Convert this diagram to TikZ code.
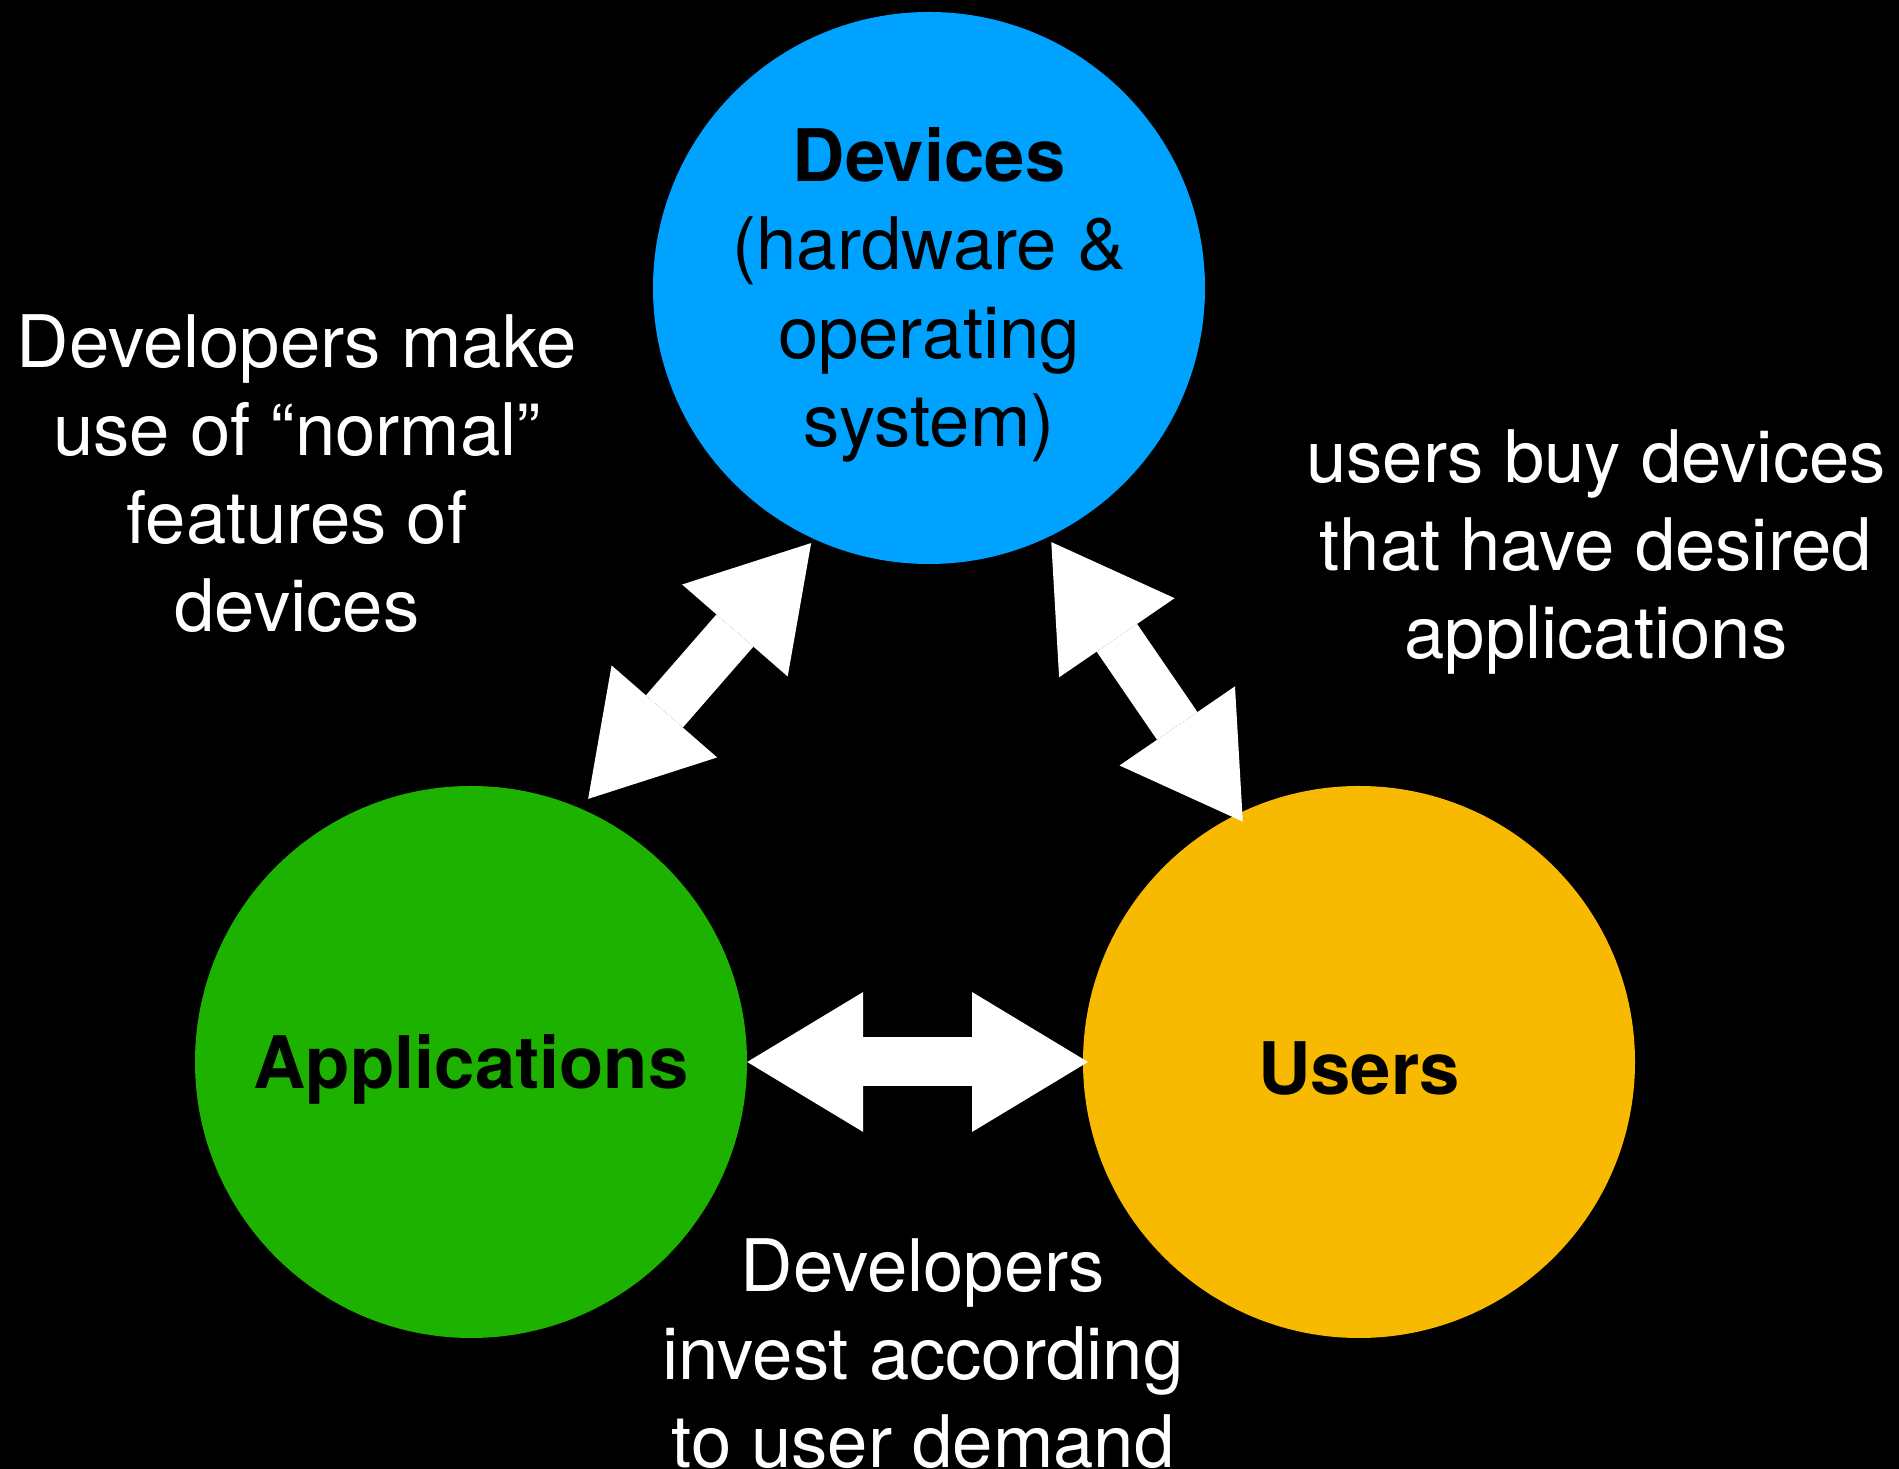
\documentclass[tikz,border=0pt]{standalone}
\usepackage{fontspec}
\setmainfont{TeX Gyre Heros}
\usetikzlibrary{arrows.meta}
\definecolor{devblue}{HTML}{00A2FF}
\definecolor{appgreen}{HTML}{1DB100}
\definecolor{useryellow}{HTML}{F8BA00}
\tikzset{hub/.style={circle,minimum size=552pt,inner sep=0pt},
         hubtext/.style={align=center,text=black,yshift=-7pt,
                         font=\fontsize{72.5}{88.5}\selectfont},
         note/.style={align=center,text=white,font=\fontsize{72.5}{88}\selectfont},
         bigtip/.tip={Triangle[length=116pt,width=140pt,line width=0pt]},
         twoway/.style={draw=white,line width=49pt,bigtip-bigtip},
         }
\begin{document}
\begin{tikzpicture}[x=1pt,y=1pt]
\path[use as bounding box,fill=black] (0,0) rectangle (1899,1469);
% the three parties
\node[hub,fill=devblue,label={[hubtext]center:{\textbf{Devices}\\(hardware \&\\operating\\system)}}]
    (dev) at (929,1181) {};
\node[hub,fill=appgreen,label={[hubtext]center:\textbf{Applications}}] (app) at (471,407) {};
\node[hub,fill=useryellow,label={[hubtext]center:\textbf{Users}}] (usr) at (1359,407) {};
% what links them
\node[note] (devnote) at (297,995) {Developers make\\use of “normal”\\features of\\devices};
\node[note] (usrnote) at (1596,917) {users buy devices\\that have desired\\applications};
\node[note] (appnote) at (923,115) {Developers\\invest according\\to user demand};
\draw[twoway] (app.east) -- ([shift={(180:271)}]usr.center);
\draw[twoway] ([shift={(66:288)}]app.center) -- ([shift={(245.2:281)}]dev.center);
\draw[twoway] ([shift={(295.7:282)}]dev.center) -- ([shift={(115.8:267)}]usr.center);
\end{tikzpicture}
\end{document}
